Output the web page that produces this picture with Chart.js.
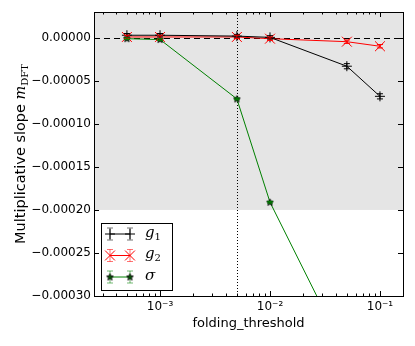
<!DOCTYPE html>
<html>
<head>
<meta charset="utf-8">
<script src="https://cdn.jsdelivr.net/npm/chart.js@4.4.0/dist/chart.umd.min.js"></script>
<style>
  html, body { margin: 0; padding: 0; background: #fff; }
  #wrap { width: 415px; height: 346px; }
</style>
</head>
<body>
<div id="wrap"><canvas id="slopeChart"></canvas></div>
<script>
// folding thresholds and fitted multiplicative slopes
var thresholds = [0.0005, 0.001, 0.005, 0.01, 0.05, 0.1];
var g1Slope = [0.000003, 0.000003, 0.000002, 0.0000005, -0.000033, -0.000068];
var g1Err = [0.000002, 0.000002, 0.000002, 0.000002, 0.000003, 0.000003];
var g2Slope = [0.000001, 0.000001, 0.000001, -0.000001, -0.0000045, -0.0000098];
var g2Err = [0.000002, 0.000002, 0.000002, 0.000002, 0.000002, 0.000002];
var sigmaSlope = [-0.000001, -0.000002, -0.000071, -0.000191, -0.00037, -0.00058];
var sigmaErr = [0.000001, 0.000001, 0.000001, 0.000001, 0.000001, 0.000001];

var yTicks = [0, -0.00005, -0.0001, -0.00015, -0.0002, -0.00025, -0.0003];
var xMajor = [0.001, 0.01, 0.1];
var xMajorLabels = ['10\u207B\u00B3', '10\u207B\u00B2', '10\u207B\u00B9'];
var chosenThreshold = 0.005;
var shadeFloor = -0.0002;

var tickFont = { family: 'DejaVu Sans', size: 12 };

// matplotlib style filled star marker
function makeStar(fill) {
    var c = document.createElement('canvas');
    c.width = 9; c.height = 9;
    var g = c.getContext('2d');
    g.beginPath();
    for (var i = 0; i < 10; i++) {
        var r = i % 2 === 0 ? 3.6 : 1.5;
        var a = -Math.PI / 2 + i * Math.PI / 5;
        var px = 4.5 + r * Math.cos(a), py = 4.7 + r * Math.sin(a);
        if (i === 0) g.moveTo(px, py); else g.lineTo(px, py);
    }
    g.closePath();
    g.fillStyle = fill;
    g.fill();
    g.strokeStyle = '#000';
    g.lineWidth = 0.9;
    g.stroke();
    return c;
}
var starMark = makeStar('#006000');

function pts(ys) {
    return thresholds.map(function (x, i) { return { x: x, y: ys[i] }; });
}

var seriesErr = [g1Err, g2Err, sigmaErr];
var legendNames = [['g', '1'], ['g', '2'], ['\u03C3', '']];

function fmtY(v) {
    if (Math.abs(v) < 1e-12) return '0.00000';
    var s = v.toFixed(5);
    return s.replace('-', '\u2212');
}

// gray band, reference lines, frame, inward ticks, error bars, legend
var decor = {
    id: 'decor',
    beforeDatasetsDraw: function (chart) {
        var ctx = chart.ctx, a = chart.chartArea;
        var xs = chart.scales.x, ys = chart.scales.y;
        ctx.save();
        var yShade = ys.getPixelForValue(shadeFloor);
        ctx.fillStyle = '#e5e5e5';
        ctx.fillRect(a.left, a.top, a.right - a.left, yShade - a.top);
        ctx.strokeStyle = '#000';
        ctx.lineWidth = 1;
        ctx.setLineDash([6, 4]);
        var y0 = Math.round(ys.getPixelForValue(0)) + 0.5;
        ctx.beginPath(); ctx.moveTo(a.left, y0); ctx.lineTo(a.right, y0); ctx.stroke();
        ctx.setLineDash([1, 2]);
        var xv = Math.round(xs.getPixelForValue(chosenThreshold)) + 0.5;
        ctx.beginPath(); ctx.moveTo(xv, a.top); ctx.lineTo(xv, a.bottom); ctx.stroke();
        ctx.restore();
    },
    afterDatasetsDraw: function (chart) {
        var ctx = chart.ctx, a = chart.chartArea;
        var xs = chart.scales.x, ys = chart.scales.y;
        ctx.save();
        ctx.beginPath();
        ctx.rect(a.left, a.top, a.right - a.left, a.bottom - a.top);
        ctx.clip();
        chart.data.datasets.forEach(function (ds, k) {
            ctx.strokeStyle = ds.borderColor;
            ctx.lineWidth = 1;
            ds.data.forEach(function (p, i) {
                var e = seriesErr[k][i];
                var px = xs.getPixelForValue(p.x);
                var yt = ys.getPixelForValue(p.y + e), yb = ys.getPixelForValue(p.y - e);
                ctx.beginPath();
                ctx.moveTo(px, yt); ctx.lineTo(px, yb);
                ctx.moveTo(px - 3, yt); ctx.lineTo(px + 3, yt);
                ctx.moveTo(px - 3, yb); ctx.lineTo(px + 3, yb);
                ctx.stroke();
            });
        });
        ctx.restore();

        ctx.save();
        ctx.strokeStyle = '#000';
        ctx.lineWidth = 1;
        ctx.beginPath();
        // x ticks, major and minor, on bottom and top
        for (var d = -4; d <= 0; d++) {
            for (var m = 1; m <= 9; m++) {
                var v = m * Math.pow(10, d);
                if (v < xs.min || v > xs.max) continue;
                var x = Math.round(xs.getPixelForValue(v)) + 0.5;
                var len = m === 1 ? 5 : 2.5;
                ctx.moveTo(x, a.bottom); ctx.lineTo(x, a.bottom - len);
                ctx.moveTo(x, a.top); ctx.lineTo(x, a.top + len);
            }
        }
        yTicks.forEach(function (t) {
            var y = Math.round(ys.getPixelForValue(t)) + 0.5;
            ctx.moveTo(a.left, y); ctx.lineTo(a.left + 5, y);
            ctx.moveTo(a.right, y); ctx.lineTo(a.right - 5, y);
        });
        ctx.stroke();
        ctx.strokeRect(Math.round(a.left) + 0.5, Math.round(a.top) + 0.5,
            Math.round(a.right - a.left), Math.round(a.bottom - a.top));
        ctx.restore();
    },
    afterDraw: function (chart) {
        var ctx = chart.ctx, a = chart.chartArea;
        ctx.save();
        // axis titles
        ctx.fillStyle = '#000';
        ctx.font = '13px "DejaVu Sans"';
        ctx.textAlign = 'center';
        ctx.textBaseline = 'middle';
        ctx.fillText('folding_threshold', (a.left + a.right) / 2, 324);

        ctx.translate(20, (a.top + a.bottom) / 2);
        ctx.rotate(-Math.PI / 2);
        var t1 = 'Multiplicative slope ';
        ctx.font = '14.5px "DejaVu Sans"';
        var w1 = ctx.measureText(t1).width;
        ctx.font = 'italic 14.5px "DejaVu Serif"';
        var w2 = ctx.measureText('m').width;
        ctx.font = '10px "DejaVu Serif"';
        var w3 = ctx.measureText('DFT').width;
        var sx = -(w1 + w2 + w3) / 2;
        ctx.textAlign = 'left';
        ctx.textBaseline = 'alphabetic';
        ctx.font = '14.5px "DejaVu Sans"';
        ctx.fillText(t1, sx, 5);
        ctx.font = 'italic 14.5px "DejaVu Serif"';
        ctx.fillText('m', sx + w1, 5);
        ctx.font = '10px "DejaVu Serif"';
        ctx.fillText('DFT', sx + w1 + w2, 8);
        ctx.restore();

        // legend box in lower left
        ctx.save();
        var bx = 101.5, by = 223.5, bw = 71, bh = 67;
        ctx.fillStyle = '#fff';
        ctx.fillRect(bx, by, bw, bh);
        ctx.strokeStyle = '#000';
        ctx.lineWidth = 1;
        ctx.strokeRect(bx, by, bw, bh);
        chart.data.datasets.forEach(function (ds, k) {
            var ly = 234 + k * 21.5;
            var xa = 110, xb = 130;
            ctx.globalAlpha = 0.55;
            ctx.strokeStyle = ds.borderColor;
            ctx.lineWidth = 1;
            ctx.beginPath();
            [xa, xb].forEach(function (x) {
                ctx.moveTo(x, ly - 6); ctx.lineTo(x, ly + 6);
                ctx.moveTo(x - 3, ly - 6); ctx.lineTo(x + 3, ly - 6);
                ctx.moveTo(x - 3, ly + 6); ctx.lineTo(x + 3, ly + 6);
            });
            ctx.stroke();
            ctx.globalAlpha = 1;
            ctx.beginPath(); ctx.moveTo(xa, ly); ctx.lineTo(xb, ly); ctx.stroke();
            ctx.fillStyle = ds.backgroundColor;
            ctx.lineWidth = ds.pointBorderWidth || 1;
            [xa, xb].forEach(function (x) {
                Chart.helpers.drawPoint(ctx, {
                    pointStyle: ds.pointStyle, radius: ds.pointRadius,
                    rotation: 0, borderWidth: 1
                }, x, ly);
            });
            ctx.fillStyle = '#000';
            ctx.textBaseline = 'middle';
            ctx.textAlign = 'left';
            ctx.font = 'italic 15px "DejaVu Serif"';
            ctx.fillText(legendNames[k][0], 145, ly - 1);
            if (legendNames[k][1]) {
                var gw = ctx.measureText(legendNames[k][0]).width;
                ctx.font = '10px "DejaVu Serif"';
                ctx.fillText(legendNames[k][1], 145 + gw, ly + 3);
            }
        });
        ctx.restore();
    }
};

const slopeChart = document.getElementById('slopeChart');
new Chart(slopeChart, {
    type: 'line',
    data: {
        datasets: [{
            label: 'g1',
            data: pts(g1Slope),
            borderColor: '#000000',
            backgroundColor: '#000000',
            borderWidth: 1,
            pointStyle: 'cross',
            pointRadius: 5,
            pointBorderWidth: 1
        }, {
            label: 'g2',
            data: pts(g2Slope),
            borderColor: '#ff0000',
            backgroundColor: '#ff0000',
            borderWidth: 1,
            pointStyle: 'crossRot',
            pointRadius: 7,
            pointBorderWidth: 1
        }, {
            label: 'sigma',
            data: pts(sigmaSlope),
            borderColor: '#008000',
            backgroundColor: '#008000',
            borderWidth: 1,
            pointStyle: starMark,
            pointRadius: 4
        }]
    },
    options: {
        responsive: true,
        maintainAspectRatio: false,
        animation: false,
        layout: { padding: { left: 0, top: 12, right: 12, bottom: 0 } },
        plugins: { legend: { display: false }, tooltip: { enabled: false } },
        scales: {
            x: {
                type: 'logarithmic',
                min: 0.000251,
                max: 0.162,
                grid: { display: false, drawTicks: false },
                border: { display: false },
                afterBuildTicks: function (scale) {
                    scale.ticks = xMajor.map(function (v) { return { value: v }; });
                },
                afterFit: function (scale) { scale.height = 50; },
                ticks: {
                    autoSkip: false,
                    maxRotation: 0,
                    padding: 4,
                    color: '#000',
                    font: tickFont,
                    callback: function (v) {
                        var i = xMajor.indexOf(v);
                        return i >= 0 ? xMajorLabels[i] : '';
                    }
                }
            },
            y: {
                min: -0.0003,
                max: 0.00003,
                grid: { display: false, drawTicks: false },
                border: { display: false },
                afterBuildTicks: function (scale) {
                    scale.ticks = yTicks.map(function (v) { return { value: v }; });
                },
                afterFit: function (scale) { scale.width = 94; },
                ticks: {
                    padding: 3,
                    color: '#000',
                    font: tickFont,
                    callback: function (v) { return fmtY(v); }
                }
            }
        }
    },
    plugins: [decor]
});
</script>
</body>
</html>
